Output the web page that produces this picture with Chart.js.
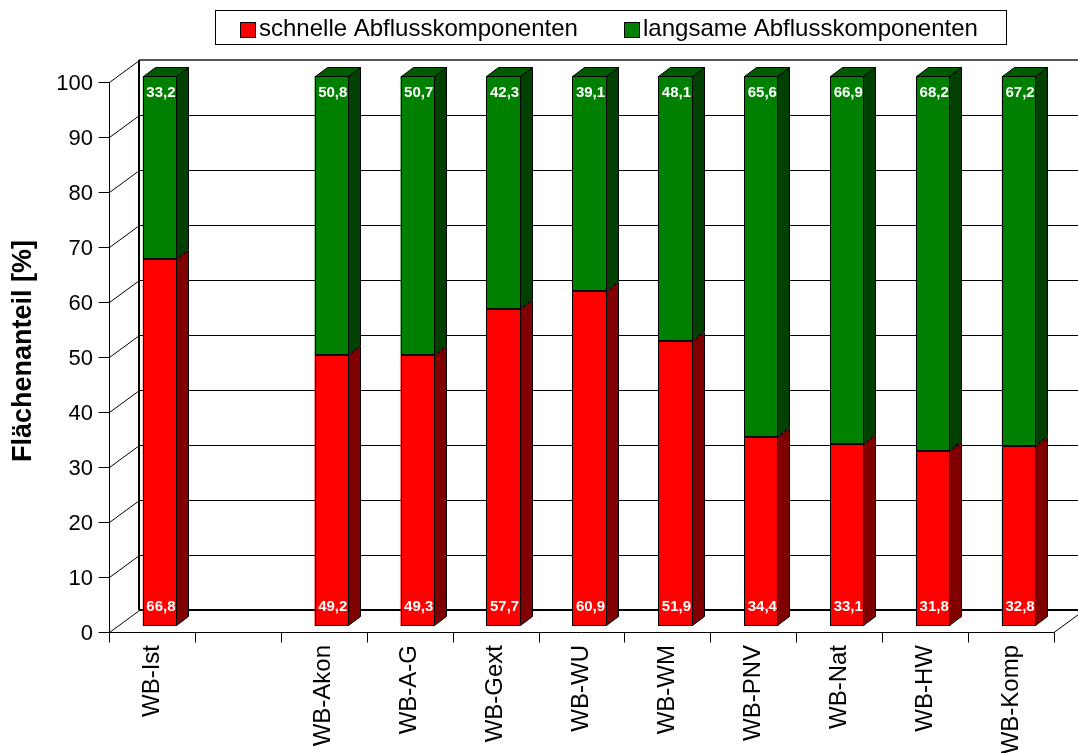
<!DOCTYPE html>
<html>
<head>
<meta charset="utf-8">
<title>Flächenanteil der Abflusskomponenten</title>
<script src="https://cdn.jsdelivr.net/npm/chart.js@4.4.1/dist/chart.umd.min.js"></script>
<style>
  html, body { margin: 0; padding: 0; background: #fff; }
  #wrap { width: 1078px; height: 753px; position: relative; }
</style>
</head>
<body>
<div id="wrap"><canvas id="chart" width="1078" height="753"></canvas></div>
<script>
// Scenario names (the second slot is intentionally left empty)
const categories = ['WB-Ist', '', 'WB-Akon', 'WB-A-G', 'WB-Gext', 'WB-WU', 'WB-WM', 'WB-PNV', 'WB-Nat', 'WB-HW', 'WB-Komp'];
// Share of area in percent
const schnelle = [66.8, null, 49.2, 49.3, 57.7, 60.9, 51.9, 34.4, 33.1, 31.8, 32.8];
const langsame = [33.2, null, 50.8, 50.7, 42.3, 39.1, 48.1, 65.6, 66.9, 68.2, 67.2];
const seriesNames = ['schnelle Abflusskomponenten', 'langsame Abflusskomponenten'];
const yTickValues = [0, 10, 20, 30, 40, 50, 60, 70, 80, 90, 100];
const yTitle = 'Flächenanteil [%]';

const FONT = "'Liberation Sans', Arial, Helvetica, sans-serif";
const COLORS = {
  front: ['#ff0000', '#008000'],
  side:  ['#800000', '#004000'],
  top:   ['#b00000', '#005a00']
};
// Pseudo-3D offsets relative to the plane of the bar front faces
const FRONT = { dx: -8, dy: 6 };
const BACK = { dx: 22, dy: -16 };
const BAR_DEPTH = { dx: 12, dy: -9 };

Chart.defaults.font.family = FONT;
Chart.defaults.color = '#000';

const fmt = v => v.toFixed(1).replace('.', ',');

const depthPlugin = {
  id: 'depth3d',
  beforeDatasetsDraw(chart) {
    const { ctx, chartArea: ca, scales: { x: xs, y: ys } } = chart;
    const py = v => Math.round(ys.getPixelForValue(v));
    ctx.save();
    ctx.lineCap = 'butt';
    // back wall grid and side wall diagonals
    ctx.strokeStyle = '#000';
    ctx.lineWidth = 1;
    yTickValues.forEach(v => {
      const yb = py(v) + BACK.dy + 0.5;
      const yf = py(v) + FRONT.dy + 0.5;
      ctx.beginPath();
      if (v > 0 && v < 100) {
        ctx.moveTo(ca.left + BACK.dx, yb);
        ctx.lineTo(ca.right + BACK.dx, yb);
      }
      ctx.moveTo(ca.left + FRONT.dx + 0.5, yf);
      ctx.lineTo(ca.left + BACK.dx + 0.5, yb);
      ctx.stroke();
    });
    // top edge of back wall
    ctx.strokeStyle = '#555';
    ctx.lineWidth = 2;
    ctx.beginPath();
    ctx.moveTo(ca.left + BACK.dx, py(100) + BACK.dy);
    ctx.lineTo(ca.right + BACK.dx + 10, py(100) + BACK.dy);
    ctx.stroke();
    // back wall left edge
    ctx.strokeStyle = '#000';
    ctx.lineWidth = 2;
    ctx.beginPath();
    ctx.moveTo(ca.left + BACK.dx, py(0) + BACK.dy);
    ctx.lineTo(ca.left + BACK.dx, py(100) + BACK.dy);
    ctx.stroke();
    // floor back edge
    ctx.beginPath();
    ctx.moveTo(ca.left + BACK.dx, py(0) + BACK.dy);
    ctx.lineTo(ca.right + BACK.dx + 10, py(0) + BACK.dy);
    ctx.stroke();
    // floor front edge and right diagonal
    ctx.lineWidth = 1;
    const y0f = py(0) + FRONT.dy + 0.5;
    ctx.beginPath();
    ctx.moveTo(ca.left + FRONT.dx, y0f);
    ctx.lineTo(ca.right + FRONT.dx, y0f);
    ctx.lineTo(ca.right + BACK.dx, py(0) + BACK.dy + 0.5);
    ctx.stroke();
    // front value axis with tick marks
    const xf = Math.round(ca.left + FRONT.dx) + 0.5;
    ctx.beginPath();
    ctx.moveTo(xf, py(0) + FRONT.dy);
    ctx.lineTo(xf, py(100) + FRONT.dy);
    yTickValues.forEach(v => {
      const y = py(v) + FRONT.dy + 0.5;
      ctx.moveTo(xf - 11, y);
      ctx.lineTo(xf, y);
    });
    // category tick marks on the front floor edge
    const slot = xs.getPixelForValue(1) - xs.getPixelForValue(0);
    for (let i = 0; i <= categories.length; i++) {
      const xb = Math.round(xs.getPixelForValue(0) - slot / 2 + i * slot + FRONT.dx) + 0.5;
      ctx.moveTo(xb, y0f);
      ctx.lineTo(xb, y0f + 10);
    }
    ctx.stroke();
    ctx.restore();
  },
  afterDatasetsDraw(chart) {
    const { ctx } = chart;
    ctx.save();
    ctx.strokeStyle = '#000';
    ctx.lineWidth = 1;
    ctx.lineJoin = 'miter';
    const n = chart.data.datasets.length;
    chart.data.datasets.forEach((ds, di) => {
      const meta = chart.getDatasetMeta(di);
      meta.data.forEach((bar, i) => {
        if (ds.data[i] == null) return;
        const p = bar.getProps(['x', 'y', 'base', 'width'], true);
        const l = Math.round(p.x - p.width / 2) + 0.5;
        const r = Math.round(p.x + p.width / 2) - 0.5;
        const t = Math.round(p.y) + 0.5;
        const b = Math.round(p.base) - 0.5;
        // front outline, drawn crisp on whole pixels
        ctx.strokeRect(l, t, r - l, b - t);
        // side face
        ctx.fillStyle = COLORS.side[di];
        ctx.beginPath();
        ctx.moveTo(r, t);
        ctx.lineTo(r + BAR_DEPTH.dx, t + BAR_DEPTH.dy);
        ctx.lineTo(r + BAR_DEPTH.dx, b + BAR_DEPTH.dy);
        ctx.lineTo(r, b);
        ctx.closePath();
        ctx.fill();
        ctx.stroke();
        // top face only on the uppermost segment
        if (di === n - 1) {
          ctx.fillStyle = COLORS.top[di];
          ctx.beginPath();
          ctx.moveTo(l, t);
          ctx.lineTo(l + BAR_DEPTH.dx, t + BAR_DEPTH.dy);
          ctx.lineTo(r + BAR_DEPTH.dx, t + BAR_DEPTH.dy);
          ctx.lineTo(r, t);
          ctx.closePath();
          ctx.fill();
          ctx.stroke();
        }
      });
    });
    // value labels inside the bars
    ctx.fillStyle = '#fff';
    ctx.font = 'bold 15px ' + FONT;
    ctx.textAlign = 'center';
    ctx.textBaseline = 'middle';
    chart.data.datasets.forEach((ds, di) => {
      const meta = chart.getDatasetMeta(di);
      meta.data.forEach((bar, i) => {
        const v = ds.data[i];
        if (v == null) return;
        const p = bar.getProps(['x', 'y', 'base'], true);
        const y = di === 0 ? p.base - 19 : p.y + 17;
        ctx.fillText(fmt(v), p.x + 1, y);
      });
    });
    ctx.restore();
  },
  afterDraw(chart) {
    // framed legend across the top
    const { ctx } = chart;
    ctx.save();
    ctx.strokeStyle = '#000';
    ctx.lineWidth = 1;
    ctx.fillStyle = '#fff';
    ctx.fillRect(215, 10, 791, 34);
    ctx.strokeRect(215.5, 10.5, 791, 34);
    const items = [{ box: 240, text: 259 }, { box: 624, text: 643 }];
    ctx.font = '24px ' + FONT;
    ctx.textBaseline = 'middle';
    ctx.textAlign = 'left';
    chart.data.datasets.forEach((ds, di) => {
      const it = items[di];
      ctx.fillStyle = ds.backgroundColor;
      ctx.fillRect(it.box, 22, 16, 16);
      ctx.strokeRect(it.box + 0.5, 22.5, 15, 15);
      ctx.fillStyle = '#000';
      ctx.fillText(ds.label, it.text, 29);
    });
    ctx.restore();
  }
};

new Chart(document.getElementById('chart'), {
  type: 'bar',
  data: {
    labels: categories,
    datasets: [
      { label: seriesNames[0], data: schnelle, backgroundColor: COLORS.front[0] },
      { label: seriesNames[1], data: langsame, backgroundColor: COLORS.front[1] }
    ]
  },
  options: {
    responsive: false,
    animation: false,
    devicePixelRatio: 1,
    layout: { padding: { left: 0, right: 16, top: 76, bottom: 0 } },
    datasets: {
      bar: {
        borderColor: '#000',
        borderWidth: 0,
        borderSkipped: false,
        categoryPercentage: 1.0,
        barPercentage: 0.4
      }
    },
    plugins: {
      legend: { display: false },
      tooltip: { enabled: false },
      title: { display: false }
    },
    scales: {
      x: {
        stacked: true,
        grid: { display: false, drawTicks: false },
        border: { display: false },
        ticks: {
          autoSkip: false,
          minRotation: 90,
          maxRotation: 90,
          padding: 19,
          labelOffset: -8,
          font: { size: 24 },
          color: '#000'
        },
        afterFit(scale) { scale.height = 127; }
      },
      y: {
        stacked: true,
        min: 0,
        max: 100,
        grid: { display: false, drawTicks: false },
        border: { display: false },
        afterBuildTicks(scale) { scale.ticks = yTickValues.map(v => ({ value: v })); },
        ticks: {
          padding: 24,
          labelOffset: 8,
          font: { size: 22 },
          color: '#000'
        },
        title: {
          display: true,
          text: yTitle,
          font: { size: 27, weight: 'bold' },
          color: '#000',
          padding: { top: 7, bottom: 0 }
        },
        afterFit(scale) { scale.width = 117; }
      }
    }
  },
  plugins: [depthPlugin]
});
</script>
</body>
</html>
